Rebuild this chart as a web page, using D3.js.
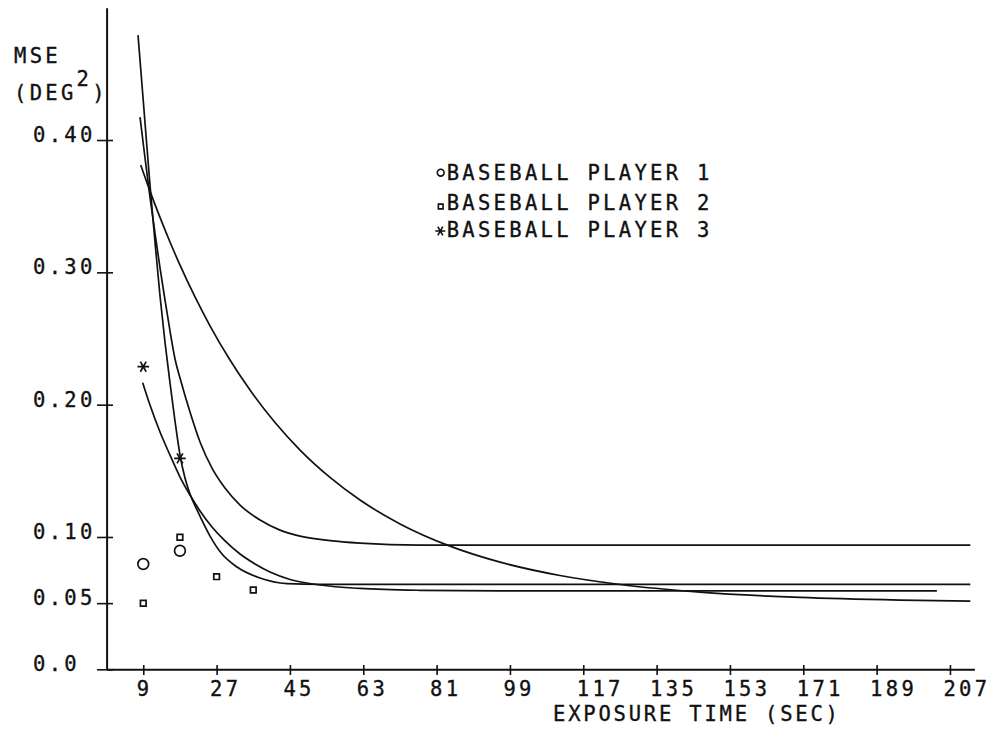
<!DOCTYPE html>
<html><head><meta charset="utf-8">
<script src="https://cdn.jsdelivr.net/npm/d3@7"></script>
<style>
body{margin:0;background:#fff}
svg text{font-family:"DejaVu Sans Mono",monospace;fill:#111;stroke:#111;stroke-width:0.35px;font-size:20.5px;letter-spacing:3.3px}
</style>
</head><body>
<svg id="c" width="992" height="742"></svg>
<script>
// ---- data ----
const xTicks = [9,27,45,63,81,99,117,135,153,171,189,207];
const yTicks = [0,0.05,0.10,0.20,0.30,0.40];
const yTickLabels = ["0.0","0.05","0.10","0.20","0.30","0.40"];
const seriesNames = ["BASEBALL PLAYER 1","BASEBALL PLAYER 2","BASEBALL PLAYER 3"];
const xTitle = "EXPOSURE TIME (SEC)";
const yTitle1 = "MSE";
const yTitle2 = ["(DEG","2",")"];

const player1 = [[9,0.0796],[18,0.0896]];
const player2 = [[9,0.0499],[18,0.0998],[27,0.0700],[36,0.0599]];
const player3 = [[9,0.2287],[18,0.1594]];

const curve1 = [[7.71,0.4793],[9.18,0.4227],[10.65,0.3660],[11.88,0.3229],[13.11,0.2821],[14.33,0.2473],[15.56,0.2164],[16.79,0.1876],[18.02,0.1619],[19.24,0.1446],[20.47,0.1325],[22.43,0.1189],[25.38,0.1007],[28.33,0.0871],[32.01,0.0773],[37.65,0.0690],[44.28,0.0648],[52.38,0.0642],[212,0.0642]];
const curve2 = [[8.20,0.4173],[9.43,0.3864],[10.65,0.3569],[11.88,0.3297],[13.11,0.3033],[14.33,0.2791],[15.56,0.2557],[16.79,0.2345],[18.02,0.2201],[20.47,0.1944],[22.93,0.1718],[25.87,0.1521],[29.06,0.1370],[32.75,0.1241],[37.66,0.1128],[42.57,0.1052],[47.48,0.1007],[54.84,0.0973],[62.20,0.0954],[76.93,0.0939],[212,0.0939]];
const curve3 = [[8.37,0.3811],[10.65,0.3614],[13.11,0.3415],[15.56,0.3229],[18.02,0.3054],[21.70,0.2814],[25.38,0.2596],[30.29,0.2337],[35.20,0.2110],[41.34,0.1865],[47.48,0.1657],[54.84,0.1450],[62.20,0.1279],[72.02,0.1099],[84.29,0.0931],[96.56,0.0810],[111.29,0.0709],[126.02,0.0641],[145.65,0.0583],[170.19,0.0543],[194.74,0.0523],[212,0.0515]];
const curve4 = [[8.86,0.2166],[10.65,0.1997],[13.11,0.1793],[15.56,0.1619],[18.02,0.1453],[20.47,0.1317],[22.93,0.1196],[25.87,0.1075],[29.06,0.0970],[32.75,0.0871],[36.43,0.0796],[40.11,0.0735],[45.02,0.0679],[52.38,0.0637],[62.20,0.0611],[76.93,0.0597],[96.56,0.0592],[203.8,0.0592]];
const curves = [curve1, curve2, curve3, curve4];

// ---- drawing ----
const svg = d3.select("#c");
const x = d3.scaleLinear().domain([0,213]).range([106.6,974.4]);
const y = d3.scaleLinear().domain([0,0.5]).range([669.3,7.7]);
const ink = "#111";

// y axis
const gy = svg.append("g").attr("transform",`translate(${x(0)},0)`)
  .call(d3.axisLeft(y).tickValues(yTicks).tickFormat((d,i)=>yTickLabels[i]).tickSizeOuter(0));
gy.attr("font-size",null).attr("font-family",null);
gy.select(".domain").attr("stroke",ink).attr("stroke-width",2);
gy.selectAll(".tick line").attr("x1",-9.6).attr("x2",6.4).attr("stroke",ink).attr("stroke-width",1.6);
gy.selectAll(".tick text").attr("x",-73.6).attr("dy",0).attr("y",1.5)
  .attr("text-anchor","start").attr("fill",ink);

// x axis
const gx = svg.append("g").attr("transform",`translate(0,${y(0)})`)
  .call(d3.axisBottom(x).tickValues(xTicks).tickSizeOuter(0));
gx.attr("font-size",null).attr("font-family",null);
gx.select(".domain").attr("stroke",ink).attr("stroke-width",2);
gx.selectAll(".tick line").attr("y1",-4.3).attr("y2",5.7).attr("stroke",ink).attr("stroke-width",1.6);
gx.selectAll(".tick text").attr("x",-7).attr("dy",0).attr("y",27.2)
  .attr("text-anchor","start").attr("fill",ink);

// axis titles
svg.append("text").attr("x",553).attr("y",721).style("letter-spacing","2.8px").text(xTitle);
svg.append("text").attr("x",14).attr("y",63).text(yTitle1);
const t2 = svg.append("text").attr("x",14).attr("y",100);
t2.append("tspan").text(yTitle2[0]);
t2.append("tspan").attr("dy",-14).text(yTitle2[1]);
t2.append("tspan").attr("dy",14).text(yTitle2[2]);

// curves
const line = d3.line().x(d=>x(d[0])).y(d=>y(d[1])).curve(d3.curveMonotoneX);
svg.append("g").selectAll("path").data(curves).join("path")
  .attr("d",line).attr("fill","none").attr("stroke",ink).attr("stroke-width",1.7)
  .attr("stroke-linejoin","round");

// markers
const symCircle = d3.symbol().type(d3.symbolCircle);
const symSquare = d3.symbol().type(d3.symbolSquare);
const symStar = d3.symbol().type(d3.symbolAsterisk);
const mk = svg.append("g").attr("fill","none").attr("stroke",ink).attr("stroke-width",1.7);
mk.selectAll(".p1").data(player1).join("path").attr("class","p1")
  .attr("d",symCircle.size(Math.PI*5.4*5.4)())
  .attr("transform",d=>`translate(${x(d[0])},${y(d[1])})`);
mk.selectAll(".p2").data(player2).join("path").attr("class","p2")
  .attr("d",symSquare.size(32)())
  .attr("transform",d=>`translate(${x(d[0])},${y(d[1])})`);
mk.selectAll(".p3").data(player3).join("path").attr("class","p3")
  .attr("d",symStar.size(95)())
  .attr("transform",d=>`translate(${x(d[0])},${y(d[1])}) rotate(90)`);

// legend
const legY = [180,210,237];
const leg = svg.append("g");
leg.selectAll("text").data(seriesNames).join("text")
  .attr("x",446.7).attr("y",(d,i)=>legY[i]).text(d=>d);
const lm = leg.append("g").attr("fill","none").attr("stroke",ink).attr("stroke-width",1.6);
lm.append("path").attr("d",symCircle.size(Math.PI*3.4*3.4)()).attr("transform","translate(440.7,172.7)");
lm.append("path").attr("d",symSquare.size(22)()).attr("transform","translate(440.7,206.5)");
lm.append("path").attr("d",symStar.size(70)()).attr("transform","translate(440.3,231) rotate(90)");
</script>
</body></html>
